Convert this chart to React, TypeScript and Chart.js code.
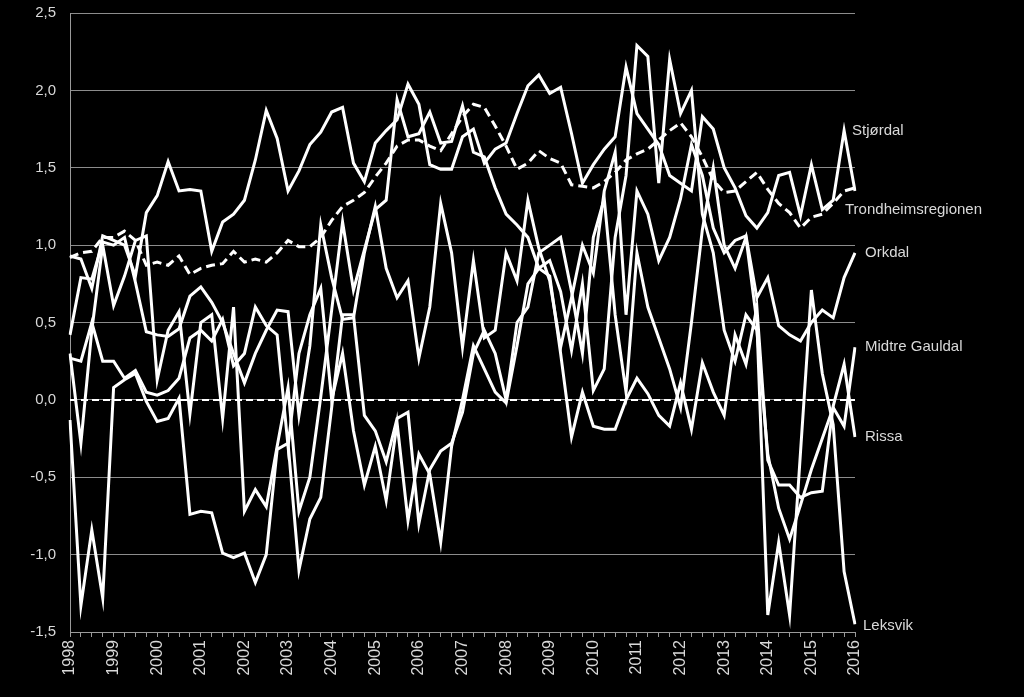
import React, { useEffect, useRef } from "react";
import { Chart, registerables } from "chart.js";
Chart.register(...registerables);

const years = ["1998","1999","2000","2001","2002","2003","2004","2005","2006","2007","2008","2009","2010","2011","2012","2013","2014","2015","2016"];
const yTicks = [-1.5, -1.0, -0.5, 0, 0.5, 1.0, 1.5, 2.0, 2.5];
const zeroLine = 0;

const trondheim = [0.92,0.95,0.96,1.05, 1.05,1.09,1.03,0.87, 0.89,0.87,0.93,0.81, 0.85,0.87,0.88,0.96, 0.89,0.91,0.89,0.95, 1.03,0.99,0.99,1.05, 1.16,1.25,1.29,1.34, 1.44,1.53,1.64,1.68, 1.68,1.64,1.61,1.72, 1.83,1.91,1.89,1.77, 1.64,1.49,1.53,1.61, 1.56,1.53,1.39,1.38, 1.37,1.41,1.47,1.55, 1.59,1.62,1.68,1.74, 1.79,1.70,1.57,1.42, 1.34,1.35,1.41,1.47, 1.36,1.27,1.21,1.11, 1.18,1.20,1.27,1.35, 1.37];
const stjordal = [0.93,0.91,0.72,1.06, 1.03,1.00,0.80,1.21, 1.32,1.54,1.35,1.36, 1.35,0.96,1.15,1.20, 1.29,1.55,1.87,1.69, 1.35,1.48,1.65,1.73, 1.86,1.89,1.53,1.41, 1.66,1.74,1.81,2.04, 1.91,1.52,1.49,1.49, 1.70,1.75,1.53,1.62, 1.66,1.85,2.03,2.10, 1.98,2.02,1.72,1.40, 1.52,1.62,1.70,2.15, 1.85,1.75,1.65,1.45, 1.40,1.35,1.83,1.75, 1.50,1.37,1.19,1.11, 1.21,1.45,1.47,1.19, 1.52,1.23,1.29,1.74, 1.35];
const orkdal = [0.42,0.79,0.78,1.02, 1.00,1.05,0.76,0.44, 0.42,0.41,0.46,0.67, 0.73,0.63,0.50,0.30, 0.11,0.30,0.45,0.58, 0.57,-0.10,0.35,1.13, 0.79,0.52,0.53,0.95, 1.25,0.85,0.66,0.77, 0.27,0.60,1.27,0.95, 0.34,0.90,0.40,0.45, 0.95,0.77,1.29,0.98, 0.77,0.34,0.66,1.00, 0.82,1.35,1.60,0.55, 1.35,1.20,0.90,1.05, 1.30,1.65,1.45,1.11, 0.95,1.03,1.06,0.66, 0.79,0.48,0.42,0.38, 0.50,0.58,0.53,0.79, 0.95];
const midtreGauldal = [0.30,-0.28,0.45,1.00, 0.61,0.80,1.03,1.06, 0.13,0.45,0.57,-0.09, 0.50,0.55,-0.12,0.60, -0.72,-0.58,-0.69,-0.30, 0.08,-0.72,-0.50,0.02, 0.58,1.15,0.71,0.97, 1.23,1.29,1.94,1.70, 1.72,1.86,1.66,1.67, 1.90,1.60,1.57,1.37, 1.20,1.13,1.05,0.85, 0.90,0.70,0.32,0.75, 0.06,0.20,1.05,1.45, 2.29,2.22,1.40,2.20, 1.85,2.00,1.20,0.95, 0.45,0.25,0.55,0.45, -0.35,-0.70,-0.90,-0.68, -0.45,-0.25,-0.05,-0.17, 0.34];
const rissa = [0.27,0.25,0.50,0.25, 0.25,0.14,0.19,0.05, 0.03,0.06,0.14,0.40, 0.45,0.38,0.52,0.22, 0.30,0.60,0.48,0.42, -0.30,0.30,0.55,0.72, 0.00,0.30,-0.20,-0.55, -0.30,-0.65,-0.15,-0.78, -0.35,-0.48,-0.92,-0.30, 0.00,0.35,0.20,0.05, -0.02,0.35,0.75,0.85, 0.80,0.30,-0.24,0.05, -0.17,-0.19,-0.19,0.00, 0.14,0.04,-0.10,-0.17, 0.11,-0.19,0.24,0.05, -0.10,0.42,0.23,0.60, -0.39,-0.55,-0.55,-0.63, -0.60,-0.59,-0.04,0.23, -0.24];
const leksvik = [-0.13,-1.33,-0.84,-1.28, 0.08,0.13,0.17,-0.01, -0.14,-0.12,0.01,-0.74, -0.72,-0.73,-0.99,-1.02, -0.99,-1.18,-1.00,-0.32, -0.28,-1.10,-0.77,-0.63, -0.05,0.55,0.55,-0.10, -0.20,-0.40,-0.12,-0.08, -0.80,-0.45,-0.33,-0.28, -0.08,0.30,0.45,0.30, 0.00,0.50,0.60,0.95, 1.00,1.05,0.70,0.30, 1.05,1.30,0.55,0.05, 0.95,0.60,0.40,0.20, -0.05,0.50,1.10,1.50, 1.00,0.85,1.05,0.50, -1.39,-0.92,-1.39,-0.34, 0.71,0.17,-0.16,-1.11, -1.45];

const seriesLabels = [
  { text: "Stjørdal", value: 1.74, dx: -3 },
  { text: "Trondheimsregionen", value: 1.23, dx: -10 },
  { text: "Orkdal", value: 0.95, dx: 10 },
  { text: "Midtre Gauldal", value: 0.34, dx: 10 },
  { text: "Rissa", value: -0.24, dx: 10 },
  { text: "Leksvik", value: -1.46, dx: 8 },
];

const categories: string[] = [];
years.forEach((y, yi) => {
  categories.push(y);
  if (yi < years.length - 1) categories.push("", "", "");
});

const FONT = "'Liberation Sans', Arial, sans-serif";
const TEXT = "#d9d9d9";

const overlayPlugin = {
  id: "overlay",
  beforeDatasetsDraw(chart: any) {
    const { ctx, chartArea, scales } = chart;
    const y = scales.y.getPixelForValue(zeroLine);
    ctx.save();
    ctx.strokeStyle = "#ffffff";
    ctx.lineWidth = 2;
    ctx.setLineDash([7, 4]);
    ctx.beginPath();
    ctx.moveTo(chartArea.left, y);
    ctx.lineTo(chartArea.right, y);
    ctx.stroke();
    ctx.restore();
  },
  afterDraw(chart: any) {
    const { ctx, chartArea, scales } = chart;
    ctx.save();
    ctx.fillStyle = TEXT;
    ctx.font = `15px ${FONT}`;
    ctx.textBaseline = "middle";
    ctx.textAlign = "left";
    seriesLabels.forEach((l) => {
      ctx.fillText(l.text, chartArea.right + l.dx, scales.y.getPixelForValue(l.value));
    });
    ctx.restore();
  },
};

export default function App() {
  const ref = useRef<HTMLCanvasElement | null>(null);
  useEffect(() => {
    if (!ref.current) return;
    const line = (label: string, data: number[], dashed = false) => ({
      label,
      data,
      borderColor: "#ffffff",
      backgroundColor: "#ffffff",
      borderWidth: 3,
      borderDash: dashed ? [9, 5] : [],
      pointRadius: 0,
      tension: 0,
      fill: false,
    });
    const chart = new Chart(ref.current, {
      type: "line",
      data: {
        labels: categories,
        datasets: [
          line("Stjørdal", stjordal),
          line("Orkdal", orkdal),
          line("Midtre Gauldal", midtreGauldal),
          line("Rissa", rissa),
          line("Leksvik", leksvik),
          line("Trondheimsregionen", trondheim, true),
        ],
      },
      options: {
        animation: false,
        responsive: false,
        maintainAspectRatio: false,
        layout: { padding: { top: 13, right: 169, left: 0, bottom: 0 } },
        plugins: { legend: { display: false }, tooltip: { enabled: false } },
        scales: {
          x: {
            offset: false,
            afterFit: (s: any) => { s.height = 65; },
            grid: { drawOnChartArea: false, drawTicks: true, tickLength: 5, color: "#9a9a9a" },
            border: { display: true, color: "#9a9a9a", width: 1 },
            ticks: {
              autoSkip: false,
              maxRotation: 90,
              minRotation: 90,
              color: TEXT,
              padding: 3,
              font: { family: FONT, size: 16 },
            },
          },
          y: {
            min: yTicks[0],
            max: yTicks[yTicks.length - 1],
            afterFit: (s: any) => { s.width = 70; s.paddingTop = 0; s.paddingBottom = 0; },
            afterBuildTicks: (s: any) => { s.ticks = yTicks.map((v) => ({ value: v })); },
            grid: { color: "#8c8c8c", lineWidth: 1, drawTicks: false },
            border: { display: true, color: "#9a9a9a", width: 1 },
            ticks: {
              color: TEXT,
              padding: 14,
              font: { family: FONT, size: 15 },
              callback: (v: any) => Number(v).toFixed(1).replace(".", ","),
            },
          },
        },
      },
      plugins: [overlayPlugin],
    });
    return () => chart.destroy();
  }, []);
  return (
    <div style={{ position: "absolute", left: 0, top: 0, width: 1024, height: 697, background: "#000" }}>
      <canvas ref={ref} width={1024} height={697} style={{ display: "block" }} />
    </div>
  );
}
